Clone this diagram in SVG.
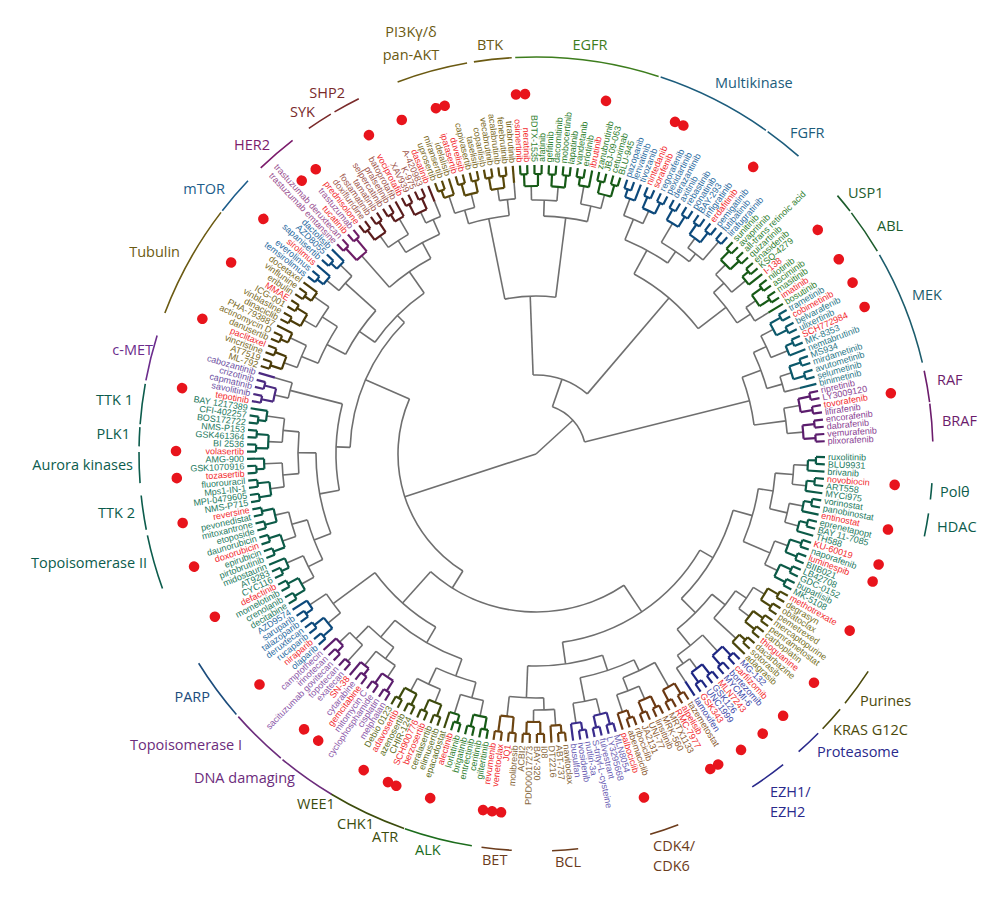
<svg xmlns="http://www.w3.org/2000/svg" width="1000" height="916" viewBox="0 0 1000 916">
<style>
.gr{stroke:#6f6f6f;stroke-width:1.6;fill:none}
.k{fill:none;stroke-width:2.2}
.cA{stroke:#0b5a47}.cB{stroke:#4b460b}.cC{stroke:#1d2683}.cD{stroke:#6a3812}.cE{stroke:#3a2c8c}.cF{stroke:#6d4512}.cG{stroke:#165a16}.cV{stroke:#3d4a0c}.cH{stroke:#5b1d6d}.cI{stroke:#0c497b}.cK{stroke:#4b2a80}.cL{stroke:#4a3b08}.cN{stroke:#6d1d66}.cO{stroke:#5a1c1c}.cP{stroke:#58470a}.cT{stroke:#0b586a}.cU{stroke:#5b1c6d}
#leaves line{stroke-width:2.2}
#leaves text{font-family:'Liberation Sans',Arial,sans-serif;font-size:9px;dominant-baseline:central}
#leaves text.f{text-anchor:end}
.lA line{stroke:#0b5a47}.lA text{fill:#1d7a60}
.lB line{stroke:#4b460b}.lB text{fill:#777024}
.lC line{stroke:#1d2683}.lC text{fill:#3c47a8}
.lD line{stroke:#6a3812}.lD text{fill:#8b5a2f}
.lE line{stroke:#3a2c8c}.lE text{fill:#6a5db3}
.lF line{stroke:#6d4512}.lF text{fill:#86663a}
.lG line{stroke:#165a16}.lG text{fill:#2e7e2e}
.lV line{stroke:#3d4a0c}.lV text{fill:#5d6d21}
.lH line{stroke:#5b1d6d}.lH text{fill:#8b56a8}
.lI line{stroke:#0c497b}.lI text{fill:#2b6c9f}
.lK line{stroke:#4b2a80}.lK text{fill:#6d4fa2}
.lL line{stroke:#4a3b08}.lL text{fill:#7a6a24}
.lN line{stroke:#6d1d66}.lN text{fill:#9a4f90}
.lO line{stroke:#5a1c1c}.lO text{fill:#a0564c}
.lP line{stroke:#58470a}.lP text{fill:#7c6a1e}
.lT line{stroke:#0b586a}.lT text{fill:#2a7888}
.lU line{stroke:#5b1c6d}.lU text{fill:#8a3f93}
#leaves g text.r{fill:#f22b2f}
.cat circle{fill:none;stroke:currentColor;stroke-width:1.6}
.cat text{fill:currentColor;font-family:'Open Sans','Noto Sans',sans-serif;font-size:14.5px}
</style>
<rect width="1000" height="916" fill="#ffffff"/>
<g id="connectors" transform="translate(536 454)">
<g class="gr">
<circle r="258" pathLength="360" stroke-dasharray="4.32 720" transform="rotate(2.4)"/>
<circle r="258" pathLength="360" stroke-dasharray="4.32 720" transform="rotate(11.03)"/>
<circle r="240" pathLength="360" stroke-dasharray="8.63 720" transform="rotate(4.56)"/>
<circle r="254" pathLength="360" stroke-dasharray="5.75 720" transform="rotate(20.03)"/>
<circle r="225" pathLength="360" stroke-dasharray="14.03 720" transform="rotate(8.88)"/>
<circle r="255" pathLength="360" stroke-dasharray="5.76 720" transform="rotate(31.54)"/>
<circle r="242" pathLength="360" stroke-dasharray="8.27 720" transform="rotate(34.42)"/>
<circle r="256" pathLength="360" stroke-dasharray="3.59 720" transform="rotate(53.13)"/>
<circle r="246" pathLength="360" stroke-dasharray="7.56 720" transform="rotate(47.37)"/>
<circle r="225" pathLength="360" stroke-dasharray="12.59 720" transform="rotate(38.56)"/>
<circle r="205" pathLength="360" stroke-dasharray="28.96 720" transform="rotate(15.9)"/>
<circle r="254" pathLength="360" stroke-dasharray="5.39 720" transform="rotate(66.08)"/>
<circle r="240" pathLength="360" stroke-dasharray="8.46 720" transform="rotate(60.32)"/>
<circle r="252" pathLength="360" stroke-dasharray="5.4 720" transform="rotate(76.15)"/>
<circle r="228" pathLength="360" stroke-dasharray="14.3 720" transform="rotate(64.55)"/>
<circle r="256" pathLength="360" stroke-dasharray="4.68 720" transform="rotate(85.86)"/>
<circle r="244" pathLength="360" stroke-dasharray="8.1 720" transform="rotate(88.2)"/>
<circle r="212" pathLength="360" stroke-dasharray="20.55 720" transform="rotate(71.7)"/>
<circle r="190" pathLength="360" stroke-dasharray="51.6 720" transform="rotate(30.38)"/>
<circle r="252" pathLength="360" stroke-dasharray="5.4 720" transform="rotate(102.05)"/>
<circle r="254" pathLength="360" stroke-dasharray="5.76 720" transform="rotate(112.12)"/>
<circle r="236" pathLength="360" stroke-dasharray="10.25 720" transform="rotate(104.75)"/>
<circle r="254" pathLength="360" stroke-dasharray="5.39 720" transform="rotate(123.64)"/>
<circle r="258" pathLength="360" stroke-dasharray="3.96 720" transform="rotate(132.27)"/>
<circle r="240" pathLength="360" stroke-dasharray="7.91 720" transform="rotate(126.34)"/>
<circle r="218" pathLength="360" stroke-dasharray="20.42 720" transform="rotate(109.88)"/>
<circle r="252" pathLength="360" stroke-dasharray="5.4 720" transform="rotate(140.9)"/>
<circle r="200" pathLength="360" stroke-dasharray="23.51 720" transform="rotate(120.09)"/>
<circle r="158" pathLength="360" stroke-dasharray="75.67 720" transform="rotate(56.18)"/>
<circle r="254" pathLength="360" stroke-dasharray="5.39 720" transform="rotate(150.98)"/>
<circle r="254" pathLength="360" stroke-dasharray="5.76 720" transform="rotate(161.05)"/>
<circle r="238" pathLength="360" stroke-dasharray="10.25 720" transform="rotate(153.68)"/>
<circle r="254" pathLength="360" stroke-dasharray="5.4 720" transform="rotate(172.56)"/>
<circle r="254" pathLength="360" stroke-dasharray="5.39 720" transform="rotate(182.64)"/>
<circle r="238" pathLength="360" stroke-dasharray="10.08 720" transform="rotate(175.26)"/>
<circle r="220" pathLength="360" stroke-dasharray="21.49 720" transform="rotate(158.81)"/>
<circle r="254" pathLength="360" stroke-dasharray="3.59 720" transform="rotate(192.71)"/>
<circle r="200" pathLength="360" stroke-dasharray="24.95 720" transform="rotate(169.56)"/>
<circle r="254" pathLength="360" stroke-dasharray="5.4 720" transform="rotate(199.9)"/>
<circle r="254" pathLength="360" stroke-dasharray="5.39 720" transform="rotate(209.98)"/>
<circle r="236" pathLength="360" stroke-dasharray="10.08 720" transform="rotate(202.6)"/>
<circle r="256" pathLength="360" stroke-dasharray="4.32 720" transform="rotate(219.69)"/>
<circle r="215" pathLength="360" stroke-dasharray="14.21 720" transform="rotate(207.64)"/>
<circle r="254" pathLength="360" stroke-dasharray="5.4 720" transform="rotate(234.44)"/>
<circle r="256" pathLength="360" stroke-dasharray="3.6 720" transform="rotate(244.51)"/>
<circle r="240" pathLength="360" stroke-dasharray="9.17 720" transform="rotate(237.14)"/>
<circle r="222" pathLength="360" stroke-dasharray="13.05 720" transform="rotate(228.68)"/>
<circle r="196" pathLength="360" stroke-dasharray="20.46 720" transform="rotate(214.75)"/>
<circle r="186" pathLength="360" stroke-dasharray="42.94 720" transform="rotate(182.04)"/>
<circle r="138" pathLength="360" stroke-dasharray="81.51 720" transform="rotate(122)"/>
<circle r="254" pathLength="360" stroke-dasharray="4.67 720" transform="rotate(251.35)"/>
<circle r="256" pathLength="360" stroke-dasharray="3.6 720" transform="rotate(261.78)"/>
<circle r="240" pathLength="360" stroke-dasharray="9.89 720" transform="rotate(253.69)"/>
<circle r="254" pathLength="360" stroke-dasharray="5.75 720" transform="rotate(268.98)"/>
<circle r="254" pathLength="360" stroke-dasharray="4.67 720" transform="rotate(280.13)"/>
<circle r="238" pathLength="360" stroke-dasharray="10.61 720" transform="rotate(271.86)"/>
<circle r="158" pathLength="360" stroke-dasharray="18.53 720" transform="rotate(258.64)"/>
<circle r="254" pathLength="360" stroke-dasharray="4.68 720" transform="rotate(290.2)"/>
<circle r="256" pathLength="360" stroke-dasharray="4.32 720" transform="rotate(306.39)"/>
<circle r="246" pathLength="360" stroke-dasharray="7.92 720" transform="rotate(300.63)"/>
<circle r="232" pathLength="360" stroke-dasharray="12.05 720" transform="rotate(292.54)"/>
<circle r="254" pathLength="360" stroke-dasharray="5.4 720" transform="rotate(315.02)"/>
<circle r="256" pathLength="360" stroke-dasharray="3.59 720" transform="rotate(325.1)"/>
<circle r="240" pathLength="360" stroke-dasharray="9.18 720" transform="rotate(317.72)"/>
<circle r="205" pathLength="360" stroke-dasharray="23.74 720" transform="rotate(298.57)"/>
<circle r="79" pathLength="360" stroke-dasharray="42.54 720" transform="rotate(267.9)"/>
<circle r="254" pathLength="360" stroke-dasharray="5.4 720" transform="rotate(332.29)"/>
<circle r="256" pathLength="360" stroke-dasharray="3.6 720" transform="rotate(342.36)"/>
<circle r="240" pathLength="360" stroke-dasharray="9.17 720" transform="rotate(334.99)"/>
<circle r="252" pathLength="360" stroke-dasharray="5.76 720" transform="rotate(349.56)"/>
<circle r="220" pathLength="360" stroke-dasharray="12.86 720" transform="rotate(339.58)"/>
<circle r="50" pathLength="360" stroke-dasharray="56.84 720" transform="rotate(289.17)"/>
<line x1="258" x2="272" transform="rotate(2.4)"/><line x1="258" x2="272" transform="rotate(6.72)"/><line x1="240" x2="258" transform="rotate(4.56)"/><line x1="258" x2="272" transform="rotate(11.03)"/><line x1="258" x2="272" transform="rotate(15.35)"/><line x1="240" x2="258" transform="rotate(13.19)"/><line x1="225" x2="240" transform="rotate(8.88)"/><line x1="254" x2="268" transform="rotate(20.03)"/><line x1="254" x2="268" transform="rotate(25.78)"/><line x1="225" x2="254" transform="rotate(22.91)"/><line x1="205" x2="225" transform="rotate(15.9)"/>
<line x1="255" x2="268" transform="rotate(31.54)"/><line x1="255" x2="268" transform="rotate(37.3)"/><line x1="242" x2="255" transform="rotate(34.42)"/><line x1="242" x2="272" transform="rotate(42.69)"/><line x1="225" x2="242" transform="rotate(38.56)"/>
<line x1="246" x2="268" transform="rotate(47.37)"/><line x1="256" x2="268" transform="rotate(53.13)"/><line x1="246" x2="256" transform="rotate(54.93)"/><line x1="256" x2="272" transform="rotate(56.72)"/><line x1="225" x2="246" transform="rotate(51.15)"/><line x1="205" x2="225" transform="rotate(44.86)"/><line x1="190" x2="205" transform="rotate(30.38)"/>
<line x1="240" x2="268" transform="rotate(60.32)"/><line x1="254" x2="268" transform="rotate(66.08)"/><line x1="254" x2="272" transform="rotate(71.47)"/><line x1="240" x2="254" transform="rotate(68.78)"/><line x1="228" x2="240" transform="rotate(64.55)"/>
<line x1="252" x2="268" transform="rotate(76.15)"/><line x1="252" x2="272" transform="rotate(81.55)"/><line x1="228" x2="252" transform="rotate(78.85)"/><line x1="212" x2="228" transform="rotate(71.7)"/>
<line x1="256" x2="272" transform="rotate(85.86)"/><line x1="256" x2="268" transform="rotate(90.54)"/><line x1="244" x2="256" transform="rotate(88.2)"/><line x1="244" x2="264" transform="rotate(96.3)"/><line x1="212" x2="244" transform="rotate(92.25)"/><line x1="190" x2="212" transform="rotate(81.98)"/><line x1="158" x2="190" transform="rotate(56.18)"/>
<line x1="252" x2="268" transform="rotate(102.05)"/><line x1="252" x2="272" transform="rotate(107.45)"/><line x1="236" x2="252" transform="rotate(104.75)"/><line x1="254" x2="268" transform="rotate(112.12)"/><line x1="254" x2="268" transform="rotate(117.88)"/><line x1="236" x2="254" transform="rotate(115)"/><line x1="218" x2="236" transform="rotate(109.88)"/>
<line x1="254" x2="268" transform="rotate(123.64)"/><line x1="254" x2="272" transform="rotate(129.03)"/><line x1="240" x2="254" transform="rotate(126.34)"/><line x1="258" x2="280" transform="rotate(132.27)"/><line x1="258" x2="272" transform="rotate(136.23)"/><line x1="240" x2="258" transform="rotate(134.25)"/><line x1="218" x2="240" transform="rotate(130.3)"/><line x1="200" x2="218" transform="rotate(120.09)"/>
<line x1="252" x2="268" transform="rotate(140.9)"/><line x1="252" x2="272" transform="rotate(146.3)"/><line x1="200" x2="252" transform="rotate(143.6)"/><line x1="158" x2="200" transform="rotate(131.85)"/><line x1="138" x2="158" transform="rotate(122)"/>
<line x1="254" x2="268" transform="rotate(150.98)"/><line x1="254" x2="272" transform="rotate(156.37)"/><line x1="238" x2="254" transform="rotate(153.68)"/><line x1="254" x2="268" transform="rotate(161.05)"/><line x1="254" x2="268" transform="rotate(166.81)"/><line x1="238" x2="254" transform="rotate(163.93)"/><line x1="220" x2="238" transform="rotate(158.81)"/><line x1="254" x2="268" transform="rotate(172.56)"/><line x1="254" x2="272" transform="rotate(177.96)"/><line x1="238" x2="254" transform="rotate(175.26)"/><line x1="254" x2="268" transform="rotate(182.64)"/><line x1="254" x2="272" transform="rotate(188.03)"/><line x1="238" x2="254" transform="rotate(185.34)"/><line x1="220" x2="238" transform="rotate(180.3)"/><line x1="200" x2="220" transform="rotate(169.56)"/>
<line x1="254" x2="268" transform="rotate(192.71)"/><line x1="254" x2="272" transform="rotate(196.3)"/><line x1="200" x2="254" transform="rotate(194.51)"/><line x1="186" x2="200" transform="rotate(182.04)"/>
<line x1="254" x2="268" transform="rotate(199.9)"/><line x1="254" x2="272" transform="rotate(205.3)"/><line x1="236" x2="254" transform="rotate(202.6)"/><line x1="254" x2="268" transform="rotate(209.98)"/><line x1="254" x2="272" transform="rotate(215.37)"/><line x1="236" x2="254" transform="rotate(212.68)"/><line x1="215" x2="236" transform="rotate(207.64)"/>
<line x1="256" x2="272" transform="rotate(219.69)"/><line x1="256" x2="272" transform="rotate(224.01)"/><line x1="215" x2="256" transform="rotate(221.85)"/><line x1="196" x2="215" transform="rotate(214.75)"/>
<line x1="222" x2="264" transform="rotate(228.68)"/>
<line x1="254" x2="268" transform="rotate(234.44)"/><line x1="254" x2="272" transform="rotate(239.84)"/><line x1="240" x2="254" transform="rotate(237.14)"/><line x1="256" x2="268" transform="rotate(244.51)"/><line x1="256" x2="272" transform="rotate(248.11)"/><line x1="240" x2="256" transform="rotate(246.31)"/><line x1="222" x2="240" transform="rotate(241.73)"/><line x1="196" x2="222" transform="rotate(235.21)"/><line x1="186" x2="196" transform="rotate(224.98)"/><line x1="138" x2="186" transform="rotate(203.51)"/><line x1="0" x2="138" transform="rotate(162)"/>
<line x1="254" x2="272" transform="rotate(251.35)"/><line x1="254" x2="268" transform="rotate(256.02)"/><line x1="240" x2="254" transform="rotate(253.69)"/><line x1="256" x2="268" transform="rotate(261.78)"/><line x1="256" x2="272" transform="rotate(265.38)"/><line x1="240" x2="256" transform="rotate(263.58)"/><line x1="158" x2="240" transform="rotate(258.64)"/>
<line x1="254" x2="268" transform="rotate(268.98)"/><line x1="254" x2="268" transform="rotate(274.73)"/><line x1="238" x2="254" transform="rotate(271.86)"/><line x1="254" x2="272" transform="rotate(280.13)"/><line x1="254" x2="268" transform="rotate(284.8)"/><line x1="238" x2="254" transform="rotate(282.47)"/><line x1="158" x2="238" transform="rotate(277.17)"/><line x1="79" x2="158" transform="rotate(267.9)"/>
<line x1="254" x2="272" transform="rotate(290.2)"/><line x1="254" x2="268" transform="rotate(294.88)"/><line x1="232" x2="254" transform="rotate(292.54)"/><line x1="246" x2="268" transform="rotate(300.63)"/><line x1="256" x2="268" transform="rotate(306.39)"/><line x1="256" x2="280" transform="rotate(310.71)"/><line x1="246" x2="256" transform="rotate(308.55)"/><line x1="232" x2="246" transform="rotate(304.59)"/><line x1="205" x2="232" transform="rotate(298.57)"/>
<line x1="254" x2="268" transform="rotate(315.02)"/><line x1="254" x2="272" transform="rotate(320.42)"/><line x1="240" x2="254" transform="rotate(317.72)"/><line x1="256" x2="268" transform="rotate(325.1)"/><line x1="256" x2="272" transform="rotate(328.69)"/><line x1="240" x2="256" transform="rotate(326.9)"/><line x1="205" x2="240" transform="rotate(322.31)"/><line x1="79" x2="205" transform="rotate(310.44)"/><line x1="50" x2="79" transform="rotate(289.17)"/>
<line x1="254" x2="268" transform="rotate(332.29)"/><line x1="254" x2="272" transform="rotate(337.69)"/><line x1="240" x2="254" transform="rotate(334.99)"/><line x1="256" x2="268" transform="rotate(342.36)"/><line x1="256" x2="272" transform="rotate(345.96)"/><line x1="240" x2="256" transform="rotate(344.16)"/><line x1="220" x2="240" transform="rotate(339.58)"/>
<line x1="252" x2="268" transform="rotate(349.56)"/><line x1="252" x2="268" transform="rotate(355.32)"/><line x1="220" x2="252" transform="rotate(352.44)"/><line x1="50" x2="220" transform="rotate(346.01)"/><line x1="0" x2="50" transform="rotate(317.59)"/>
</g>
<g class="k cA">
<circle r="280" pathLength="360" stroke-dasharray="1.44 720" transform="rotate(0.6)"/><circle r="272" pathLength="360" stroke-dasharray="2.16 720" transform="rotate(1.32)"/><circle r="280" pathLength="360" stroke-dasharray="1.44 720" transform="rotate(4.92)"/><circle r="272" pathLength="360" stroke-dasharray="2.16 720" transform="rotate(5.64)"/><circle r="280" pathLength="360" stroke-dasharray="1.44 720" transform="rotate(9.23)"/><circle r="272" pathLength="360" stroke-dasharray="2.16 720" transform="rotate(9.95)"/><circle r="280" pathLength="360" stroke-dasharray="1.44 720" transform="rotate(13.55)"/><circle r="272" pathLength="360" stroke-dasharray="2.16 720" transform="rotate(14.27)"/><circle r="280" pathLength="360" stroke-dasharray="1.44 720" transform="rotate(17.87)"/><circle r="280" pathLength="360" stroke-dasharray="1.44 720" transform="rotate(20.75)"/><circle r="268" pathLength="360" stroke-dasharray="2.88 720" transform="rotate(18.59)"/><circle r="280" pathLength="360" stroke-dasharray="1.44 720" transform="rotate(23.62)"/><circle r="280" pathLength="360" stroke-dasharray="1.44 720" transform="rotate(26.5)"/><circle r="268" pathLength="360" stroke-dasharray="2.88 720" transform="rotate(24.34)"/>
<line x1="272" x2="280" transform="rotate(1.32)"/><line x1="272" x2="280" transform="rotate(5.64)"/><line x1="272" x2="280" transform="rotate(9.95)"/><line x1="272" x2="280" transform="rotate(14.27)"/><line x1="268" x2="280" transform="rotate(18.59)"/><line x1="268" x2="280" transform="rotate(21.47)"/><line x1="268" x2="280" transform="rotate(24.34)"/><line x1="268" x2="280" transform="rotate(27.22)"/>
<circle r="280" pathLength="360" stroke-dasharray="1.44 720" transform="rotate(148.82)"/><circle r="280" pathLength="360" stroke-dasharray="1.43 720" transform="rotate(151.7)"/><circle r="268" pathLength="360" stroke-dasharray="2.88 720" transform="rotate(149.54)"/><circle r="280" pathLength="360" stroke-dasharray="1.44 720" transform="rotate(154.57)"/><circle r="272" pathLength="360" stroke-dasharray="2.16 720" transform="rotate(155.29)"/><circle r="280" pathLength="360" stroke-dasharray="1.44 720" transform="rotate(158.89)"/><circle r="280" pathLength="360" stroke-dasharray="1.44 720" transform="rotate(161.77)"/><circle r="268" pathLength="360" stroke-dasharray="2.88 720" transform="rotate(159.61)"/><circle r="280" pathLength="360" stroke-dasharray="1.44 720" transform="rotate(164.65)"/><circle r="280" pathLength="360" stroke-dasharray="1.44 720" transform="rotate(167.52)"/><circle r="268" pathLength="360" stroke-dasharray="2.87 720" transform="rotate(165.37)"/><circle r="280" pathLength="360" stroke-dasharray="1.44 720" transform="rotate(170.4)"/><circle r="280" pathLength="360" stroke-dasharray="1.44 720" transform="rotate(173.28)"/><circle r="268" pathLength="360" stroke-dasharray="2.88 720" transform="rotate(171.12)"/><circle r="280" pathLength="360" stroke-dasharray="1.44 720" transform="rotate(176.16)"/><circle r="272" pathLength="360" stroke-dasharray="2.16 720" transform="rotate(176.88)"/><circle r="280" pathLength="360" stroke-dasharray="1.43 720" transform="rotate(180.48)"/><circle r="280" pathLength="360" stroke-dasharray="1.44 720" transform="rotate(183.35)"/><circle r="268" pathLength="360" stroke-dasharray="2.87 720" transform="rotate(181.2)"/><circle r="280" pathLength="360" stroke-dasharray="1.44 720" transform="rotate(186.23)"/><circle r="272" pathLength="360" stroke-dasharray="2.16 720" transform="rotate(186.95)"/>
<line x1="268" x2="280" transform="rotate(149.54)"/><line x1="268" x2="280" transform="rotate(152.42)"/><line x1="272" x2="280" transform="rotate(155.29)"/><line x1="268" x2="280" transform="rotate(159.61)"/><line x1="268" x2="280" transform="rotate(162.49)"/><line x1="268" x2="280" transform="rotate(165.37)"/><line x1="268" x2="280" transform="rotate(168.24)"/><line x1="268" x2="280" transform="rotate(171.12)"/><line x1="268" x2="280" transform="rotate(174)"/><line x1="272" x2="280" transform="rotate(176.88)"/><line x1="268" x2="280" transform="rotate(181.2)"/><line x1="268" x2="280" transform="rotate(184.07)"/><line x1="272" x2="280" transform="rotate(186.95)"/>
</g>
<g class="k cB">
<circle r="280" pathLength="360" stroke-dasharray="1.44 720" transform="rotate(29.38)"/><circle r="280" pathLength="360" stroke-dasharray="1.44 720" transform="rotate(32.26)"/><circle r="268" pathLength="360" stroke-dasharray="2.88 720" transform="rotate(30.1)"/><circle r="280" pathLength="360" stroke-dasharray="1.44 720" transform="rotate(35.14)"/><circle r="280" pathLength="360" stroke-dasharray="1.44 720" transform="rotate(38.01)"/><circle r="268" pathLength="360" stroke-dasharray="2.87 720" transform="rotate(35.86)"/><circle r="280" pathLength="360" stroke-dasharray="1.44 720" transform="rotate(40.89)"/><circle r="272" pathLength="360" stroke-dasharray="2.16 720" transform="rotate(41.61)"/>
<line x1="268" x2="280" transform="rotate(30.1)"/><line x1="268" x2="280" transform="rotate(32.98)"/><line x1="268" x2="280" transform="rotate(35.86)"/><line x1="268" x2="280" transform="rotate(38.73)"/><line x1="272" x2="280" transform="rotate(41.61)"/>
</g>
<g class="k cC">
<circle r="280" pathLength="360" stroke-dasharray="1.44 720" transform="rotate(45.21)"/><circle r="280" pathLength="360" stroke-dasharray="1.44 720" transform="rotate(48.09)"/><circle r="268" pathLength="360" stroke-dasharray="2.88 720" transform="rotate(45.93)"/><circle r="280" pathLength="360" stroke-dasharray="1.43 720" transform="rotate(50.97)"/><circle r="280" pathLength="360" stroke-dasharray="1.44 720" transform="rotate(53.84)"/><circle r="268" pathLength="360" stroke-dasharray="2.87 720" transform="rotate(51.69)"/>
<line x1="268" x2="280" transform="rotate(45.93)"/><line x1="268" x2="280" transform="rotate(48.81)"/><line x1="268" x2="280" transform="rotate(51.69)"/><line x1="268" x2="280" transform="rotate(54.56)"/>
</g>
<g class="k cD">
<circle r="280" pathLength="360" stroke-dasharray="1.44 720" transform="rotate(58.16)"/><circle r="280" pathLength="360" stroke-dasharray="1.44 720" transform="rotate(61.04)"/><circle r="268" pathLength="360" stroke-dasharray="2.88 720" transform="rotate(58.88)"/><circle r="280" pathLength="360" stroke-dasharray="1.44 720" transform="rotate(63.92)"/><circle r="280" pathLength="360" stroke-dasharray="1.44 720" transform="rotate(66.79)"/><circle r="268" pathLength="360" stroke-dasharray="2.87 720" transform="rotate(64.64)"/><circle r="280" pathLength="360" stroke-dasharray="1.44 720" transform="rotate(69.67)"/><circle r="272" pathLength="360" stroke-dasharray="2.16 720" transform="rotate(70.39)"/>
<line x1="268" x2="280" transform="rotate(58.88)"/><line x1="268" x2="280" transform="rotate(61.76)"/><line x1="268" x2="280" transform="rotate(64.64)"/><line x1="268" x2="280" transform="rotate(67.51)"/><line x1="272" x2="280" transform="rotate(70.39)"/>
</g>
<g class="k cE">
<circle r="280" pathLength="360" stroke-dasharray="1.44 720" transform="rotate(73.99)"/><circle r="280" pathLength="360" stroke-dasharray="1.44 720" transform="rotate(76.87)"/><circle r="268" pathLength="360" stroke-dasharray="2.88 720" transform="rotate(74.71)"/><circle r="280" pathLength="360" stroke-dasharray="1.43 720" transform="rotate(79.75)"/><circle r="272" pathLength="360" stroke-dasharray="2.15 720" transform="rotate(80.47)"/>
<line x1="268" x2="280" transform="rotate(74.71)"/><line x1="268" x2="280" transform="rotate(77.59)"/><line x1="272" x2="280" transform="rotate(80.47)"/>
</g>
<g class="k cF">
<circle r="280" pathLength="360" stroke-dasharray="1.44 720" transform="rotate(84.06)"/><circle r="272" pathLength="360" stroke-dasharray="2.16 720" transform="rotate(84.78)"/><circle r="280" pathLength="360" stroke-dasharray="1.44 720" transform="rotate(88.38)"/><circle r="280" pathLength="360" stroke-dasharray="1.44 720" transform="rotate(91.26)"/><circle r="268" pathLength="360" stroke-dasharray="2.88 720" transform="rotate(89.1)"/><circle r="280" pathLength="360" stroke-dasharray="1.43 720" transform="rotate(94.14)"/><circle r="280" pathLength="360" stroke-dasharray="1.44 720" transform="rotate(97.01)"/><circle r="264" pathLength="360" stroke-dasharray="2.87 720" transform="rotate(94.86)"/>
<line x1="272" x2="280" transform="rotate(84.78)"/><line x1="268" x2="280" transform="rotate(89.1)"/><line x1="268" x2="280" transform="rotate(91.98)"/><line x1="264" x2="280" transform="rotate(94.86)"/><line x1="264" x2="280" transform="rotate(97.73)"/>
</g>
<g class="k cG">
<circle r="280" pathLength="360" stroke-dasharray="1.44 720" transform="rotate(99.89)"/><circle r="280" pathLength="360" stroke-dasharray="1.44 720" transform="rotate(102.77)"/><circle r="268" pathLength="360" stroke-dasharray="2.88 720" transform="rotate(100.61)"/><circle r="280" pathLength="360" stroke-dasharray="1.44 720" transform="rotate(105.65)"/><circle r="272" pathLength="360" stroke-dasharray="2.16 720" transform="rotate(106.37)"/>
<line x1="268" x2="280" transform="rotate(100.61)"/><line x1="268" x2="280" transform="rotate(103.49)"/><line x1="272" x2="280" transform="rotate(106.37)"/>
<circle r="280" pathLength="360" stroke-dasharray="1.43 720" transform="rotate(266.82)"/><circle r="280" pathLength="360" stroke-dasharray="1.44 720" transform="rotate(269.69)"/><circle r="268" pathLength="360" stroke-dasharray="2.87 720" transform="rotate(267.54)"/><circle r="280" pathLength="360" stroke-dasharray="1.44 720" transform="rotate(272.57)"/><circle r="280" pathLength="360" stroke-dasharray="1.44 720" transform="rotate(275.45)"/><circle r="268" pathLength="360" stroke-dasharray="2.88 720" transform="rotate(273.29)"/><circle r="280" pathLength="360" stroke-dasharray="1.44 720" transform="rotate(278.33)"/><circle r="272" pathLength="360" stroke-dasharray="2.16 720" transform="rotate(279.05)"/><circle r="280" pathLength="360" stroke-dasharray="1.44 720" transform="rotate(282.64)"/><circle r="280" pathLength="360" stroke-dasharray="1.44 720" transform="rotate(285.52)"/><circle r="268" pathLength="360" stroke-dasharray="2.88 720" transform="rotate(283.36)"/>
<line x1="268" x2="280" transform="rotate(267.54)"/><line x1="268" x2="280" transform="rotate(270.41)"/><line x1="268" x2="280" transform="rotate(273.29)"/><line x1="268" x2="280" transform="rotate(276.17)"/><line x1="272" x2="280" transform="rotate(279.05)"/><line x1="268" x2="280" transform="rotate(283.36)"/><line x1="268" x2="280" transform="rotate(286.24)"/>
<circle r="280" pathLength="360" stroke-dasharray="1.44 720" transform="rotate(312.86)"/><circle r="280" pathLength="360" stroke-dasharray="1.44 720" transform="rotate(315.74)"/><circle r="268" pathLength="360" stroke-dasharray="2.88 720" transform="rotate(313.58)"/><circle r="280" pathLength="360" stroke-dasharray="1.44 720" transform="rotate(318.62)"/><circle r="272" pathLength="360" stroke-dasharray="2.16 720" transform="rotate(319.34)"/><circle r="280" pathLength="360" stroke-dasharray="1.44 720" transform="rotate(322.94)"/><circle r="280" pathLength="360" stroke-dasharray="1.44 720" transform="rotate(325.81)"/><circle r="268" pathLength="360" stroke-dasharray="2.87 720" transform="rotate(323.66)"/>
<line x1="268" x2="280" transform="rotate(313.58)"/><line x1="268" x2="280" transform="rotate(316.46)"/><line x1="272" x2="280" transform="rotate(319.34)"/><line x1="268" x2="280" transform="rotate(323.66)"/><line x1="268" x2="280" transform="rotate(326.53)"/>
</g>
<g class="k cV">
<circle r="280" pathLength="360" stroke-dasharray="1.44 720" transform="rotate(109.96)"/><circle r="280" pathLength="360" stroke-dasharray="1.44 720" transform="rotate(112.84)"/><circle r="268" pathLength="360" stroke-dasharray="2.88 720" transform="rotate(110.68)"/><circle r="280" pathLength="360" stroke-dasharray="1.44 720" transform="rotate(115.72)"/><circle r="280" pathLength="360" stroke-dasharray="1.44 720" transform="rotate(118.6)"/><circle r="268" pathLength="360" stroke-dasharray="2.88 720" transform="rotate(116.44)"/>
<line x1="268" x2="280" transform="rotate(110.68)"/><line x1="268" x2="280" transform="rotate(113.56)"/><line x1="268" x2="280" transform="rotate(116.44)"/><line x1="268" x2="280" transform="rotate(119.32)"/>
</g>
<g class="k cH">
<circle r="280" pathLength="360" stroke-dasharray="1.44 720" transform="rotate(121.48)"/><circle r="280" pathLength="360" stroke-dasharray="1.44 720" transform="rotate(124.35)"/><circle r="268" pathLength="360" stroke-dasharray="2.87 720" transform="rotate(122.2)"/><circle r="280" pathLength="360" stroke-dasharray="1.44 720" transform="rotate(127.23)"/><circle r="272" pathLength="360" stroke-dasharray="2.16 720" transform="rotate(127.95)"/><circle r="280" pathLength="360" stroke-dasharray="1.44 720" transform="rotate(131.55)"/><circle r="280" pathLength="360" stroke-dasharray="1.44 720" transform="rotate(134.43)"/><circle r="272" pathLength="360" stroke-dasharray="2.16 720" transform="rotate(135.15)"/>
<line x1="268" x2="280" transform="rotate(122.2)"/><line x1="268" x2="280" transform="rotate(125.07)"/><line x1="272" x2="280" transform="rotate(127.95)"/><line x1="272" x2="280" transform="rotate(135.15)"/>
</g>
<g class="k cI">
<circle r="280" pathLength="360" stroke-dasharray="1.44 720" transform="rotate(138.74)"/><circle r="280" pathLength="360" stroke-dasharray="1.44 720" transform="rotate(141.62)"/><circle r="268" pathLength="360" stroke-dasharray="2.88 720" transform="rotate(139.46)"/><circle r="280" pathLength="360" stroke-dasharray="1.44 720" transform="rotate(144.5)"/><circle r="272" pathLength="360" stroke-dasharray="2.16 720" transform="rotate(145.22)"/>
<line x1="268" x2="280" transform="rotate(139.46)"/><line x1="268" x2="280" transform="rotate(142.34)"/><line x1="272" x2="280" transform="rotate(145.22)"/>
<circle r="280" pathLength="360" stroke-dasharray="1.44 720" transform="rotate(217.89)"/><circle r="272" pathLength="360" stroke-dasharray="2.16 720" transform="rotate(218.61)"/><circle r="280" pathLength="360" stroke-dasharray="1.44 720" transform="rotate(222.21)"/><circle r="272" pathLength="360" stroke-dasharray="2.15 720" transform="rotate(222.93)"/>
<line x1="272" x2="280" transform="rotate(218.61)"/><line x1="272" x2="280" transform="rotate(222.93)"/>
<circle r="280" pathLength="360" stroke-dasharray="1.44 720" transform="rotate(288.4)"/><circle r="272" pathLength="360" stroke-dasharray="2.16 720" transform="rotate(289.12)"/><circle r="280" pathLength="360" stroke-dasharray="1.44 720" transform="rotate(292.72)"/><circle r="280" pathLength="360" stroke-dasharray="1.43 720" transform="rotate(295.6)"/><circle r="268" pathLength="360" stroke-dasharray="2.88 720" transform="rotate(293.44)"/><circle r="280" pathLength="360" stroke-dasharray="1.44 720" transform="rotate(298.47)"/><circle r="280" pathLength="360" stroke-dasharray="1.44 720" transform="rotate(301.35)"/><circle r="268" pathLength="360" stroke-dasharray="2.88 720" transform="rotate(299.19)"/><circle r="280" pathLength="360" stroke-dasharray="1.44 720" transform="rotate(304.23)"/><circle r="280" pathLength="360" stroke-dasharray="1.44 720" transform="rotate(307.11)"/><circle r="268" pathLength="360" stroke-dasharray="2.88 720" transform="rotate(304.95)"/><circle r="280" pathLength="360" stroke-dasharray="1.43 720" transform="rotate(309.99)"/>
<line x1="272" x2="280" transform="rotate(289.12)"/><line x1="268" x2="280" transform="rotate(293.44)"/><line x1="268" x2="280" transform="rotate(296.32)"/><line x1="268" x2="280" transform="rotate(299.19)"/><line x1="268" x2="280" transform="rotate(302.07)"/><line x1="268" x2="280" transform="rotate(304.95)"/><line x1="268" x2="280" transform="rotate(307.83)"/>
</g>
<g class="k cK">
<circle r="280" pathLength="360" stroke-dasharray="1.44 720" transform="rotate(190.55)"/><circle r="280" pathLength="360" stroke-dasharray="1.44 720" transform="rotate(193.43)"/><circle r="268" pathLength="360" stroke-dasharray="2.88 720" transform="rotate(191.27)"/>
<line x1="268" x2="280" transform="rotate(191.27)"/><line x1="268" x2="280" transform="rotate(194.15)"/>
</g>
<g class="k cL">
<circle r="280" pathLength="360" stroke-dasharray="1.44 720" transform="rotate(197.74)"/><circle r="280" pathLength="360" stroke-dasharray="1.44 720" transform="rotate(200.62)"/><circle r="268" pathLength="360" stroke-dasharray="2.88 720" transform="rotate(198.46)"/><circle r="280" pathLength="360" stroke-dasharray="1.44 720" transform="rotate(203.5)"/><circle r="272" pathLength="360" stroke-dasharray="2.16 720" transform="rotate(204.22)"/><circle r="280" pathLength="360" stroke-dasharray="1.44 720" transform="rotate(207.82)"/><circle r="280" pathLength="360" stroke-dasharray="1.44 720" transform="rotate(210.69)"/><circle r="268" pathLength="360" stroke-dasharray="2.87 720" transform="rotate(208.54)"/><circle r="280" pathLength="360" stroke-dasharray="1.44 720" transform="rotate(213.57)"/><circle r="272" pathLength="360" stroke-dasharray="2.16 720" transform="rotate(214.29)"/>
<line x1="268" x2="280" transform="rotate(198.46)"/><line x1="268" x2="280" transform="rotate(201.34)"/><line x1="272" x2="280" transform="rotate(204.22)"/><line x1="268" x2="280" transform="rotate(208.54)"/><line x1="268" x2="280" transform="rotate(211.41)"/><line x1="272" x2="280" transform="rotate(214.29)"/>
</g>
<g class="k cN">
<circle r="280" pathLength="360" stroke-dasharray="1.44 720" transform="rotate(226.52)"/><circle r="280" pathLength="360" stroke-dasharray="1.44 720" transform="rotate(229.4)"/><circle r="264" pathLength="360" stroke-dasharray="2.88 720" transform="rotate(227.24)"/>
<line x1="264" x2="280" transform="rotate(227.24)"/><line x1="264" x2="280" transform="rotate(230.12)"/>
</g>
<g class="k cO">
<circle r="280" pathLength="360" stroke-dasharray="1.44 720" transform="rotate(232.28)"/><circle r="280" pathLength="360" stroke-dasharray="1.44 720" transform="rotate(235.16)"/><circle r="268" pathLength="360" stroke-dasharray="2.88 720" transform="rotate(233)"/><circle r="280" pathLength="360" stroke-dasharray="1.43 720" transform="rotate(238.04)"/><circle r="272" pathLength="360" stroke-dasharray="2.15 720" transform="rotate(238.76)"/><circle r="280" pathLength="360" stroke-dasharray="1.44 720" transform="rotate(242.35)"/><circle r="280" pathLength="360" stroke-dasharray="1.44 720" transform="rotate(245.23)"/><circle r="268" pathLength="360" stroke-dasharray="2.88 720" transform="rotate(243.07)"/>
<line x1="268" x2="280" transform="rotate(233)"/><line x1="268" x2="280" transform="rotate(235.88)"/><line x1="272" x2="280" transform="rotate(238.76)"/><line x1="268" x2="280" transform="rotate(243.07)"/><line x1="268" x2="280" transform="rotate(245.95)"/>
</g>
<g class="k cP">
<circle r="280" pathLength="360" stroke-dasharray="1.44 720" transform="rotate(249.55)"/><circle r="272" pathLength="360" stroke-dasharray="2.16 720" transform="rotate(250.27)"/><circle r="280" pathLength="360" stroke-dasharray="1.44 720" transform="rotate(253.86)"/><circle r="280" pathLength="360" stroke-dasharray="1.44 720" transform="rotate(256.74)"/><circle r="268" pathLength="360" stroke-dasharray="2.88 720" transform="rotate(254.58)"/><circle r="280" pathLength="360" stroke-dasharray="1.44 720" transform="rotate(259.62)"/><circle r="280" pathLength="360" stroke-dasharray="1.44 720" transform="rotate(262.5)"/><circle r="268" pathLength="360" stroke-dasharray="2.88 720" transform="rotate(260.34)"/>
<line x1="272" x2="280" transform="rotate(250.27)"/><line x1="268" x2="280" transform="rotate(254.58)"/><line x1="268" x2="280" transform="rotate(257.46)"/><line x1="268" x2="280" transform="rotate(260.34)"/><line x1="268" x2="280" transform="rotate(263.22)"/>
</g>
<g class="k cT">
<circle r="280" pathLength="360" stroke-dasharray="1.44 720" transform="rotate(330.13)"/><circle r="280" pathLength="360" stroke-dasharray="1.44 720" transform="rotate(333.01)"/><circle r="268" pathLength="360" stroke-dasharray="2.88 720" transform="rotate(330.85)"/><circle r="280" pathLength="360" stroke-dasharray="1.44 720" transform="rotate(335.89)"/><circle r="272" pathLength="360" stroke-dasharray="2.16 720" transform="rotate(336.61)"/><circle r="280" pathLength="360" stroke-dasharray="1.44 720" transform="rotate(340.2)"/><circle r="280" pathLength="360" stroke-dasharray="1.44 720" transform="rotate(343.08)"/><circle r="268" pathLength="360" stroke-dasharray="2.88 720" transform="rotate(340.92)"/>
<line x1="268" x2="280" transform="rotate(330.85)"/><line x1="268" x2="280" transform="rotate(333.73)"/><line x1="272" x2="280" transform="rotate(336.61)"/><line x1="268" x2="280" transform="rotate(340.92)"/><line x1="268" x2="280" transform="rotate(343.8)"/>
</g>
<g class="k cU">
<circle r="280" pathLength="360" stroke-dasharray="1.44 720" transform="rotate(347.4)"/><circle r="280" pathLength="360" stroke-dasharray="1.44 720" transform="rotate(350.28)"/><circle r="268" pathLength="360" stroke-dasharray="2.88 720" transform="rotate(348.12)"/><circle r="280" pathLength="360" stroke-dasharray="1.43 720" transform="rotate(353.16)"/><circle r="280" pathLength="360" stroke-dasharray="1.44 720" transform="rotate(356.03)"/><circle r="268" pathLength="360" stroke-dasharray="2.87 720" transform="rotate(353.88)"/>
<line x1="268" x2="280" transform="rotate(348.12)"/><line x1="268" x2="280" transform="rotate(351)"/><line x1="268" x2="280" transform="rotate(353.88)"/><line x1="268" x2="280" transform="rotate(356.75)"/>
</g>
</g>
<g id="leaves" transform="translate(536 454)">
<g id="lf0" class="lA" transform="rotate(0.6)"><line x1="280" x2="289"/><text x="292">ruxolitinib</text></g>
<g id="lf1" class="lA" transform="rotate(2.04)"><line x1="280" x2="289"/><text x="292">BLU9931</text></g>
<g id="lf2" class="lA" transform="rotate(3.48)"><line x1="272" x2="289"/><text x="292">brivanib</text></g>
<g id="lf3" class="lA" transform="rotate(4.92)"><line x1="280" x2="289"/><text class="r" x="292">novobiocin</text></g>
<g id="lf4" class="lA" transform="rotate(6.36)"><line x1="280" x2="289"/><text x="292">ART558</text></g>
<g id="lf5" class="lA" transform="rotate(7.8)"><line x1="272" x2="289"/><text x="292">MYCi975</text></g>
<g id="lf6" class="lA" transform="rotate(9.23)"><line x1="280" x2="289"/><text x="292">vorinostat</text></g>
<g id="lf7" class="lA" transform="rotate(10.67)"><line x1="280" x2="289"/><text x="292">panobinostat</text></g>
<g id="lf8" class="lA" transform="rotate(12.11)"><line x1="272" x2="289"/><text class="r" x="292">entinostat</text></g>
<g id="lf9" class="lA" transform="rotate(13.55)"><line x1="280" x2="289"/><text x="292">eprenetapopt</text></g>
<g id="lf10" class="lA" transform="rotate(14.99)"><line x1="280" x2="289"/><text x="292">BAY 11-7085</text></g>
<g id="lf11" class="lA" transform="rotate(16.43)"><line x1="272" x2="289"/><text x="292">TH588</text></g>
<g id="lf12" class="lA" transform="rotate(17.87)"><line x1="280" x2="289"/><text class="r" x="292">KU-60019</text></g>
<g id="lf13" class="lA" transform="rotate(19.31)"><line x1="280" x2="289"/><text x="292">naporafenib</text></g>
<g id="lf14" class="lA" transform="rotate(20.75)"><line x1="280" x2="289"/><text class="r" x="292">luminespib</text></g>
<g id="lf15" class="lA" transform="rotate(22.19)"><line x1="280" x2="289"/><text x="292">BIIB021</text></g>
<g id="lf16" class="lA" transform="rotate(23.62)"><line x1="280" x2="289"/><text x="292">LB42708</text></g>
<g id="lf17" class="lA" transform="rotate(25.06)"><line x1="280" x2="289"/><text x="292">GDC-0152</text></g>
<g id="lf18" class="lA" transform="rotate(26.5)"><line x1="280" x2="289"/><text x="292">buparlisib</text></g>
<g id="lf19" class="lA" transform="rotate(27.94)"><line x1="280" x2="289"/><text x="292">MK-5108</text></g>
<g id="lf20" class="lB" transform="rotate(29.38)"><line x1="280" x2="289"/><text class="r" x="292">methotrexate</text></g>
<g id="lf21" class="lB" transform="rotate(30.82)"><line x1="280" x2="289"/><text x="292">degrasyn</text></g>
<g id="lf22" class="lB" transform="rotate(32.26)"><line x1="280" x2="289"/><text x="292">obatoclax</text></g>
<g id="lf23" class="lB" transform="rotate(33.7)"><line x1="280" x2="289"/><text x="292">pemetrexed</text></g>
<g id="lf24" class="lB" transform="rotate(35.14)"><line x1="280" x2="289"/><text x="292">mercaptopurine</text></g>
<g id="lf25" class="lB" transform="rotate(36.58)"><line x1="280" x2="289"/><text x="292">pemrametostat</text></g>
<g id="lf26" class="lB" transform="rotate(38.01)"><line x1="280" x2="289"/><text x="292">carboplatin</text></g>
<g id="lf27" class="lB" transform="rotate(39.45)"><line x1="280" x2="289"/><text class="r" x="292">thioguanine</text></g>
<g id="lf28" class="lB" transform="rotate(40.89)"><line x1="280" x2="289"/><text x="292">dacarbazine</text></g>
<g id="lf29" class="lB" transform="rotate(42.33)"><line x1="280" x2="289"/><text x="292">sotorasib</text></g>
<g id="lf30" class="lB" transform="rotate(43.77)"><line x1="272" x2="289"/><text x="292">adagrasib</text></g>
<g id="lf31" class="lC" transform="rotate(45.21)"><line x1="280" x2="289"/><text x="292">MG-132</text></g>
<g id="lf32" class="lC" transform="rotate(46.65)"><line x1="280" x2="289"/><text class="r" x="292">carfilzomib</text></g>
<g id="lf33" class="lC" transform="rotate(48.09)"><line x1="280" x2="289"/><text x="292">bortezomib</text></g>
<g id="lf34" class="lC" transform="rotate(49.53)"><line x1="280" x2="289"/><text x="292">MYCMI-6</text></g>
<g id="lf35" class="lC" transform="rotate(50.97)"><line x1="280" x2="289"/><text class="r" x="292">MLN7243</text></g>
<g id="lf36" class="lC" transform="rotate(52.4)"><line x1="280" x2="289"/><text x="292">GSK126</text></g>
<g id="lf37" class="lC" transform="rotate(53.84)"><line x1="280" x2="289"/><text x="292">UNC1999</text></g>
<g id="lf38" class="lC" transform="rotate(55.28)"><line x1="280" x2="289"/><text class="r" x="292">GSK343</text></g>
<g id="lf39" class="lC" transform="rotate(56.72)"><line x1="272" x2="289"/><text x="292">tamoxifen</text></g>
<g id="lf40" class="lD" transform="rotate(58.16)"><line x1="280" x2="289"/><text x="292">tazemetostat</text></g>
<g id="lf41" class="lD" transform="rotate(59.6)"><line x1="280" x2="289"/><text class="r" x="292">alpelisib</text></g>
<g id="lf42" class="lD" transform="rotate(61.04)"><line x1="280" x2="289"/><text class="r" x="292">RMC-7977</text></g>
<g id="lf43" class="lD" transform="rotate(62.48)"><line x1="280" x2="289"/><text x="292">MRTX1133</text></g>
<g id="lf44" class="lD" transform="rotate(63.92)"><line x1="280" x2="289"/><text x="292">MRK-560</text></g>
<g id="lf45" class="lD" transform="rotate(65.36)"><line x1="280" x2="289"/><text x="292">linsitinib</text></g>
<g id="lf46" class="lD" transform="rotate(66.79)"><line x1="280" x2="289"/><text x="292">UNI-77</text></g>
<g id="lf47" class="lD" transform="rotate(68.23)"><line x1="280" x2="289"/><text x="292">JA2131</text></g>
<g id="lf48" class="lD" transform="rotate(69.67)"><line x1="280" x2="289"/><text x="292">ribociclib</text></g>
<g id="lf49" class="lD" transform="rotate(71.11)"><line x1="280" x2="289"/><text x="292">abemaciclib</text></g>
<g id="lf50" class="lD" transform="rotate(72.55)"><line x1="272" x2="289"/><text class="r" x="292">palbociclib</text></g>
<g id="lf51" class="lE" transform="rotate(73.99)"><line x1="280" x2="289"/><text x="292">MLN8054</text></g>
<g id="lf52" class="lE" transform="rotate(75.43)"><line x1="280" x2="289"/><text x="292">LY3295668</text></g>
<g id="lf53" class="lE" transform="rotate(76.87)"><line x1="280" x2="289"/><text x="292">fulvestrant</text></g>
<g id="lf54" class="lE" transform="rotate(78.31)"><line x1="280" x2="289"/><text x="292">S-trityl-L-cysteine</text></g>
<g id="lf55" class="lE" transform="rotate(79.75)"><line x1="280" x2="289"/><text x="292">nutlin-3a</text></g>
<g id="lf56" class="lE" transform="rotate(81.18)"><line x1="280" x2="289"/><text x="292">ivosidenib</text></g>
<g id="lf57" class="lE" transform="rotate(82.62)"><line x1="272" x2="289"/><text x="292">busulfan</text></g>
<g id="lf58" class="lF" transform="rotate(84.06)"><line x1="280" x2="289"/><text x="292">navitoclax</text></g>
<g id="lf59" class="lF" transform="rotate(85.5)"><line x1="280" x2="289"/><text x="292">ABT-737</text></g>
<g id="lf60" class="lF" transform="rotate(86.94)"><line x1="272" x2="289"/><text x="292">DT2216</text></g>
<g id="lf61" class="lF" transform="rotate(88.38)"><line x1="280" x2="289"/><text x="292">I08</text></g>
<g id="lf62" class="lF" transform="rotate(89.82)"><line x1="280" x2="289"/><text x="292">BAY-320</text></g>
<g id="lf63" class="lF" transform="rotate(91.26)"><line x1="280" x2="289"/><text class="f" x="292" transform="rotate(180 292 0)">PDD00017273</text></g>
<g id="lf64" class="lF" transform="rotate(92.7)"><line x1="280" x2="289"/><text class="f" x="292" transform="rotate(180 292 0)">ACBI2</text></g>
<g id="lf65" class="lF" transform="rotate(94.14)"><line x1="280" x2="289"/><text class="f" x="292" transform="rotate(180 292 0)">molibresib</text></g>
<g id="lf66" class="lF" transform="rotate(95.57)"><line x1="280" x2="289"/><text class="f r" x="292" transform="rotate(180 292 0)">JQ1</text></g>
<g id="lf67" class="lF" transform="rotate(97.01)"><line x1="280" x2="289"/><text class="f r" x="292" transform="rotate(180 292 0)">venetoclax</text></g>
<g id="lf68" class="lF" transform="rotate(98.45)"><line x1="280" x2="289"/><text class="f r" x="292" transform="rotate(180 292 0)">revumenib</text></g>
<g id="lf69" class="lG" transform="rotate(99.89)"><line x1="280" x2="289"/><text class="f" x="292" transform="rotate(180 292 0)">gilteritinib</text></g>
<g id="lf70" class="lG" transform="rotate(101.33)"><line x1="280" x2="289"/><text class="f" x="292" transform="rotate(180 292 0)">ceritinib</text></g>
<g id="lf71" class="lG" transform="rotate(102.77)"><line x1="280" x2="289"/><text class="f" x="292" transform="rotate(180 292 0)">entrectinib</text></g>
<g id="lf72" class="lG" transform="rotate(104.21)"><line x1="280" x2="289"/><text class="f" x="292" transform="rotate(180 292 0)">brigatinib</text></g>
<g id="lf73" class="lG" transform="rotate(105.65)"><line x1="280" x2="289"/><text class="f" x="292" transform="rotate(180 292 0)">lorlatinib</text></g>
<g id="lf74" class="lG" transform="rotate(107.09)"><line x1="280" x2="289"/><text class="f r" x="292" transform="rotate(180 292 0)">alectinib</text></g>
<g id="lf75" class="lV" transform="rotate(108.53)"><line x1="272" x2="289"/><text class="f" x="292" transform="rotate(180 292 0)">epacadostat</text></g>
<g id="lf76" class="lV" transform="rotate(109.96)"><line x1="280" x2="289"/><text class="f" x="292" transform="rotate(180 292 0)">elimusertib</text></g>
<g id="lf77" class="lV" transform="rotate(111.4)"><line x1="280" x2="289"/><text class="f" x="292" transform="rotate(180 292 0)">ceralasertib</text></g>
<g id="lf78" class="lV" transform="rotate(112.84)"><line x1="280" x2="289"/><text class="f r" x="292" transform="rotate(180 292 0)">berzosertib</text></g>
<g id="lf79" class="lV" transform="rotate(114.28)"><line x1="280" x2="289"/><text class="f r" x="292" transform="rotate(180 292 0)">SCH900776</text></g>
<g id="lf80" class="lV" transform="rotate(115.72)"><line x1="280" x2="289"/><text class="f" x="292" transform="rotate(180 292 0)">CHIR-124</text></g>
<g id="lf81" class="lV" transform="rotate(117.16)"><line x1="280" x2="289"/><text class="f" x="292" transform="rotate(180 292 0)">azenosertib</text></g>
<g id="lf82" class="lV" transform="rotate(118.6)"><line x1="280" x2="289"/><text class="f r" x="292" transform="rotate(180 292 0)">adavosertib</text></g>
<g id="lf83" class="lV" transform="rotate(120.04)"><line x1="280" x2="289"/><text class="f" x="292" transform="rotate(180 292 0)">Debio 0123</text></g>
<g id="lf84" class="lH" transform="rotate(121.48)"><line x1="280" x2="289"/><text class="f" x="292" transform="rotate(180 292 0)">melphalan</text></g>
<g id="lf85" class="lH" transform="rotate(122.92)"><line x1="280" x2="289"/><text class="f" x="292" transform="rotate(180 292 0)">cisplatin</text></g>
<g id="lf86" class="lH" transform="rotate(124.35)"><line x1="280" x2="289"/><text class="f" x="292" transform="rotate(180 292 0)">cyclophosphamide</text></g>
<g id="lf87" class="lH" transform="rotate(125.79)"><line x1="280" x2="289"/><text class="f" x="292" transform="rotate(180 292 0)">mitomycin C</text></g>
<g id="lf88" class="lH" transform="rotate(127.23)"><line x1="280" x2="289"/><text class="f r" x="292" transform="rotate(180 292 0)">gemcitabine</text></g>
<g id="lf89" class="lH" transform="rotate(128.67)"><line x1="280" x2="289"/><text class="f" x="292" transform="rotate(180 292 0)">cytarabine</text></g>
<g id="lf90" class="lH" transform="rotate(130.11)"><line x1="272" x2="289"/><text class="f r" x="292" transform="rotate(180 292 0)">SN-38</text></g>
<g id="lf91" class="lH" transform="rotate(131.55)"><line x1="280" x2="289"/><text class="f" x="292" transform="rotate(180 292 0)">exatecan</text></g>
<g id="lf92" class="lH" transform="rotate(132.99)"><line x1="280" x2="289"/><text class="f" x="292" transform="rotate(180 292 0)">topotecan</text></g>
<g id="lf93" class="lH" transform="rotate(134.43)"><line x1="280" x2="289"/><text class="f" x="292" transform="rotate(180 292 0)">sacituzumab govitecan</text></g>
<g id="lf94" class="lH" transform="rotate(135.87)"><line x1="280" x2="289"/><text class="f" x="292" transform="rotate(180 292 0)">irinotecan</text></g>
<g id="lf95" class="lH" transform="rotate(137.31)"><line x1="272" x2="289"/><text class="f" x="292" transform="rotate(180 292 0)">camptothecin</text></g>
<g id="lf96" class="lI" transform="rotate(138.74)"><line x1="280" x2="289"/><text class="f" x="292" transform="rotate(180 292 0)">olaparib</text></g>
<g id="lf97" class="lI" transform="rotate(140.18)"><line x1="280" x2="289"/><text class="f r" x="292" transform="rotate(180 292 0)">niraparib</text></g>
<g id="lf98" class="lI" transform="rotate(141.62)"><line x1="280" x2="289"/><text class="f" x="292" transform="rotate(180 292 0)">rucaparib</text></g>
<g id="lf99" class="lI" transform="rotate(143.06)"><line x1="280" x2="289"/><text class="f" x="292" transform="rotate(180 292 0)">deruxtecan</text></g>
<g id="lf100" class="lI" transform="rotate(144.5)"><line x1="280" x2="289"/><text class="f" x="292" transform="rotate(180 292 0)">talazoparib</text></g>
<g id="lf101" class="lI" transform="rotate(145.94)"><line x1="280" x2="289"/><text class="f" x="292" transform="rotate(180 292 0)">saruparib</text></g>
<g id="lf102" class="lI" transform="rotate(147.38)"><line x1="272" x2="289"/><text class="f" x="292" transform="rotate(180 292 0)">AZD9574</text></g>
<g id="lf103" class="lA" transform="rotate(148.82)"><line x1="280" x2="289"/><text class="f" x="292" transform="rotate(180 292 0)">decitabine</text></g>
<g id="lf104" class="lA" transform="rotate(150.26)"><line x1="280" x2="289"/><text class="f" x="292" transform="rotate(180 292 0)">crenolanib</text></g>
<g id="lf105" class="lA" transform="rotate(151.7)"><line x1="280" x2="289"/><text class="f" x="292" transform="rotate(180 292 0)">momelotinib</text></g>
<g id="lf106" class="lA" transform="rotate(153.13)"><line x1="280" x2="289"/><text class="f r" x="292" transform="rotate(180 292 0)">defactinib</text></g>
<g id="lf107" class="lA" transform="rotate(154.57)"><line x1="280" x2="289"/><text class="f" x="292" transform="rotate(180 292 0)">CYC116</text></g>
<g id="lf108" class="lA" transform="rotate(156.01)"><line x1="280" x2="289"/><text class="f" x="292" transform="rotate(180 292 0)">AT9283</text></g>
<g id="lf109" class="lA" transform="rotate(157.45)"><line x1="272" x2="289"/><text class="f" x="292" transform="rotate(180 292 0)">midostaurin</text></g>
<g id="lf110" class="lA" transform="rotate(158.89)"><line x1="280" x2="289"/><text class="f" x="292" transform="rotate(180 292 0)">pirtobrutinib</text></g>
<g id="lf111" class="lA" transform="rotate(160.33)"><line x1="280" x2="289"/><text class="f" x="292" transform="rotate(180 292 0)">epirubicin</text></g>
<g id="lf112" class="lA" transform="rotate(161.77)"><line x1="280" x2="289"/><text class="f r" x="292" transform="rotate(180 292 0)">doxorubicin</text></g>
<g id="lf113" class="lA" transform="rotate(163.21)"><line x1="280" x2="289"/><text class="f" x="292" transform="rotate(180 292 0)">daunorubicin</text></g>
<g id="lf114" class="lA" transform="rotate(164.65)"><line x1="280" x2="289"/><text class="f" x="292" transform="rotate(180 292 0)">etoposide</text></g>
<g id="lf115" class="lA" transform="rotate(166.09)"><line x1="280" x2="289"/><text class="f" x="292" transform="rotate(180 292 0)">mitoxantrone</text></g>
<g id="lf116" class="lA" transform="rotate(167.52)"><line x1="280" x2="289"/><text class="f" x="292" transform="rotate(180 292 0)">pevonedistat</text></g>
<g id="lf117" class="lA" transform="rotate(168.96)"><line x1="280" x2="289"/><text class="f r" x="292" transform="rotate(180 292 0)">reversine</text></g>
<g id="lf118" class="lA" transform="rotate(170.4)"><line x1="280" x2="289"/><text class="f" x="292" transform="rotate(180 292 0)">NMS-P715</text></g>
<g id="lf119" class="lA" transform="rotate(171.84)"><line x1="280" x2="289"/><text class="f" x="292" transform="rotate(180 292 0)">MPI-0479605</text></g>
<g id="lf120" class="lA" transform="rotate(173.28)"><line x1="280" x2="289"/><text class="f" x="292" transform="rotate(180 292 0)">Mps1-IN-1</text></g>
<g id="lf121" class="lA" transform="rotate(174.72)"><line x1="280" x2="289"/><text class="f" x="292" transform="rotate(180 292 0)">fluorouracil</text></g>
<g id="lf122" class="lA" transform="rotate(176.16)"><line x1="280" x2="289"/><text class="f r" x="292" transform="rotate(180 292 0)">tozasertib</text></g>
<g id="lf123" class="lA" transform="rotate(177.6)"><line x1="280" x2="289"/><text class="f" x="292" transform="rotate(180 292 0)">GSK1070916</text></g>
<g id="lf124" class="lA" transform="rotate(179.04)"><line x1="272" x2="289"/><text class="f" x="292" transform="rotate(180 292 0)">AMG-900</text></g>
<g id="lf125" class="lA" transform="rotate(180.48)"><line x1="280" x2="289"/><text class="f r" x="292" transform="rotate(180 292 0)">volasertib</text></g>
<g id="lf126" class="lA" transform="rotate(181.91)"><line x1="280" x2="289"/><text class="f" x="292" transform="rotate(180 292 0)">BI 2536</text></g>
<g id="lf127" class="lA" transform="rotate(183.35)"><line x1="280" x2="289"/><text class="f" x="292" transform="rotate(180 292 0)">GSK461364</text></g>
<g id="lf128" class="lA" transform="rotate(184.79)"><line x1="280" x2="289"/><text class="f" x="292" transform="rotate(180 292 0)">NMS-P153</text></g>
<g id="lf129" class="lA" transform="rotate(186.23)"><line x1="280" x2="289"/><text class="f" x="292" transform="rotate(180 292 0)">BOS172722</text></g>
<g id="lf130" class="lA" transform="rotate(187.67)"><line x1="280" x2="289"/><text class="f" x="292" transform="rotate(180 292 0)">CFI-402257</text></g>
<g id="lf131" class="lA" transform="rotate(189.11)"><line x1="272" x2="289"/><text class="f" x="292" transform="rotate(180 292 0)">BAY 1217389</text></g>
<g id="lf132" class="lK" transform="rotate(190.55)"><line x1="280" x2="289"/><text class="f r" x="292" transform="rotate(180 292 0)">tepotinib</text></g>
<g id="lf133" class="lK" transform="rotate(191.99)"><line x1="280" x2="289"/><text class="f" x="292" transform="rotate(180 292 0)">savolitinib</text></g>
<g id="lf134" class="lK" transform="rotate(193.43)"><line x1="280" x2="289"/><text class="f" x="292" transform="rotate(180 292 0)">capmatinib</text></g>
<g id="lf135" class="lK" transform="rotate(194.87)"><line x1="280" x2="289"/><text class="f" x="292" transform="rotate(180 292 0)">crizotinib</text></g>
<g id="lf136" class="lK" transform="rotate(196.3)"><line x1="272" x2="289"/><text class="f" x="292" transform="rotate(180 292 0)">cabozantinib</text></g>
<g id="lf137" class="lL" transform="rotate(197.74)"><line x1="280" x2="289"/><text class="f" x="292" transform="rotate(180 292 0)">ML-792</text></g>
<g id="lf138" class="lL" transform="rotate(199.18)"><line x1="280" x2="289"/><text class="f" x="292" transform="rotate(180 292 0)">AT7519</text></g>
<g id="lf139" class="lL" transform="rotate(200.62)"><line x1="280" x2="289"/><text class="f" x="292" transform="rotate(180 292 0)">vincristine</text></g>
<g id="lf140" class="lL" transform="rotate(202.06)"><line x1="280" x2="289"/><text class="f r" x="292" transform="rotate(180 292 0)">paclitaxel</text></g>
<g id="lf141" class="lL" transform="rotate(203.5)"><line x1="280" x2="289"/><text class="f" x="292" transform="rotate(180 292 0)">danusertib</text></g>
<g id="lf142" class="lL" transform="rotate(204.94)"><line x1="280" x2="289"/><text class="f" x="292" transform="rotate(180 292 0)">actinomycin D</text></g>
<g id="lf143" class="lL" transform="rotate(206.38)"><line x1="272" x2="289"/><text class="f" x="292" transform="rotate(180 292 0)">PHA-793887</text></g>
<g id="lf144" class="lL" transform="rotate(207.82)"><line x1="280" x2="289"/><text class="f" x="292" transform="rotate(180 292 0)">dinaciclib</text></g>
<g id="lf145" class="lL" transform="rotate(209.26)"><line x1="280" x2="289"/><text class="f" x="292" transform="rotate(180 292 0)">vinblastine</text></g>
<g id="lf146" class="lL" transform="rotate(210.69)"><line x1="280" x2="289"/><text class="f" x="292" transform="rotate(180 292 0)">ICG-001</text></g>
<g id="lf147" class="lL" transform="rotate(212.13)"><line x1="280" x2="289"/><text class="f r" x="292" transform="rotate(180 292 0)">MMAE</text></g>
<g id="lf148" class="lL" transform="rotate(213.57)"><line x1="280" x2="289"/><text class="f" x="292" transform="rotate(180 292 0)">eribulin</text></g>
<g id="lf149" class="lL" transform="rotate(215.01)"><line x1="280" x2="289"/><text class="f" x="292" transform="rotate(180 292 0)">vinflunine</text></g>
<g id="lf150" class="lL" transform="rotate(216.45)"><line x1="272" x2="289"/><text class="f" x="292" transform="rotate(180 292 0)">docetaxel</text></g>
<g id="lf151" class="lI" transform="rotate(217.89)"><line x1="280" x2="289"/><text class="f" x="292" transform="rotate(180 292 0)">temsirolimus</text></g>
<g id="lf152" class="lI" transform="rotate(219.33)"><line x1="280" x2="289"/><text class="f" x="292" transform="rotate(180 292 0)">everolimus</text></g>
<g id="lf153" class="lI" transform="rotate(220.77)"><line x1="272" x2="289"/><text class="f r" x="292" transform="rotate(180 292 0)">sirolimus</text></g>
<g id="lf154" class="lI" transform="rotate(222.21)"><line x1="280" x2="289"/><text class="f" x="292" transform="rotate(180 292 0)">sapanisertib</text></g>
<g id="lf155" class="lI" transform="rotate(223.65)"><line x1="280" x2="289"/><text class="f" x="292" transform="rotate(180 292 0)">AZD8055</text></g>
<g id="lf156" class="lI" transform="rotate(225.08)"><line x1="272" x2="289"/><text class="f" x="292" transform="rotate(180 292 0)">dactolisib</text></g>
<g id="lf157" class="lN" transform="rotate(226.52)"><line x1="280" x2="289"/><text class="f" x="292" transform="rotate(180 292 0)">trastuzumab emtansine</text></g>
<g id="lf158" class="lN" transform="rotate(227.96)"><line x1="280" x2="289"/><text class="f" x="292" transform="rotate(180 292 0)">trastuzumab deruxtecan</text></g>
<g id="lf159" class="lN" transform="rotate(229.4)"><line x1="280" x2="289"/><text class="f r" x="292" transform="rotate(180 292 0)">tucatinib</text></g>
<g id="lf160" class="lN" transform="rotate(230.84)"><line x1="280" x2="289"/><text class="f" x="292" transform="rotate(180 292 0)">trastuzumab</text></g>
<g id="lf161" class="lO" transform="rotate(232.28)"><line x1="280" x2="289"/><text class="f r" x="292" transform="rotate(180 292 0)">prednisolone</text></g>
<g id="lf162" class="lO" transform="rotate(233.72)"><line x1="280" x2="289"/><text class="f" x="292" transform="rotate(180 292 0)">doxifluridine</text></g>
<g id="lf163" class="lO" transform="rotate(235.16)"><line x1="280" x2="289"/><text class="f" x="292" transform="rotate(180 292 0)">fostamatinib</text></g>
<g id="lf164" class="lO" transform="rotate(236.6)"><line x1="280" x2="289"/><text class="f" x="292" transform="rotate(180 292 0)">tamatinib</text></g>
<g id="lf165" class="lO" transform="rotate(238.04)"><line x1="280" x2="289"/><text class="f" x="292" transform="rotate(180 292 0)">selpercatinib</text></g>
<g id="lf166" class="lO" transform="rotate(239.47)"><line x1="280" x2="289"/><text class="f" x="292" transform="rotate(180 292 0)">pralsetinib</text></g>
<g id="lf167" class="lO" transform="rotate(240.91)"><line x1="272" x2="289"/><text class="f" x="292" transform="rotate(180 292 0)">batoprotafib</text></g>
<g id="lf168" class="lO" transform="rotate(242.35)"><line x1="280" x2="289"/><text class="f r" x="292" transform="rotate(180 292 0)">vociprotafib</text></g>
<g id="lf169" class="lO" transform="rotate(243.79)"><line x1="280" x2="289"/><text class="f" x="292" transform="rotate(180 292 0)">XAV939</text></g>
<g id="lf170" class="lO" transform="rotate(245.23)"><line x1="280" x2="289"/><text class="f" x="292" transform="rotate(180 292 0)">K-975</text></g>
<g id="lf171" class="lO" transform="rotate(246.67)"><line x1="280" x2="289"/><text class="f" x="292" transform="rotate(180 292 0)">A-420983</text></g>
<g id="lf172" class="lO" transform="rotate(248.11)"><line x1="272" x2="289"/><text class="f r" x="292" transform="rotate(180 292 0)">dasatinib</text></g>
<g id="lf173" class="lP" transform="rotate(249.55)"><line x1="280" x2="289"/><text class="f" x="292" transform="rotate(180 292 0)">uprosertib</text></g>
<g id="lf174" class="lP" transform="rotate(250.99)"><line x1="280" x2="289"/><text class="f" x="292" transform="rotate(180 292 0)">miransertib</text></g>
<g id="lf175" class="lP" transform="rotate(252.43)"><line x1="272" x2="289"/><text class="f" x="292" transform="rotate(180 292 0)">idelalisib</text></g>
<g id="lf176" class="lP" transform="rotate(253.86)"><line x1="280" x2="289"/><text class="f r" x="292" transform="rotate(180 292 0)">ipatasertib</text></g>
<g id="lf177" class="lP" transform="rotate(255.3)"><line x1="280" x2="289"/><text class="f r" x="292" transform="rotate(180 292 0)">duvelisib</text></g>
<g id="lf178" class="lP" transform="rotate(256.74)"><line x1="280" x2="289"/><text class="f" x="292" transform="rotate(180 292 0)">capivasertib</text></g>
<g id="lf179" class="lP" transform="rotate(258.18)"><line x1="280" x2="289"/><text class="f" x="292" transform="rotate(180 292 0)">taselisib</text></g>
<g id="lf180" class="lP" transform="rotate(259.62)"><line x1="280" x2="289"/><text class="f" x="292" transform="rotate(180 292 0)">copanlisib</text></g>
<g id="lf181" class="lP" transform="rotate(261.06)"><line x1="280" x2="289"/><text class="f" x="292" transform="rotate(180 292 0)">vecabrutinib</text></g>
<g id="lf182" class="lP" transform="rotate(262.5)"><line x1="280" x2="289"/><text class="f" x="292" transform="rotate(180 292 0)">acalabrutinib</text></g>
<g id="lf183" class="lP" transform="rotate(263.94)"><line x1="280" x2="289"/><text class="f" x="292" transform="rotate(180 292 0)">fenebrutinib</text></g>
<g id="lf184" class="lP" transform="rotate(265.38)"><line x1="272" x2="289"/><text class="f" x="292" transform="rotate(180 292 0)">tirabrutinib</text></g>
<g id="lf185" class="lG" transform="rotate(266.82)"><line x1="280" x2="289"/><text class="f r" x="292" transform="rotate(180 292 0)">osimertinib</text></g>
<g id="lf186" class="lG" transform="rotate(268.25)"><line x1="280" x2="289"/><text class="f r" x="292" transform="rotate(180 292 0)">neratinib</text></g>
<g id="lf187" class="lG" transform="rotate(269.69)"><line x1="280" x2="289"/><text class="f" x="292" transform="rotate(180 292 0)">BDTX-1535</text></g>
<g id="lf188" class="lG" transform="rotate(271.13)"><line x1="280" x2="289"/><text x="292">afatinib</text></g>
<g id="lf189" class="lG" transform="rotate(272.57)"><line x1="280" x2="289"/><text x="292">gefitinib</text></g>
<g id="lf190" class="lG" transform="rotate(274.01)"><line x1="280" x2="289"/><text x="292">dacomitinib</text></g>
<g id="lf191" class="lG" transform="rotate(275.45)"><line x1="280" x2="289"/><text x="292">mobocertinib</text></g>
<g id="lf192" class="lG" transform="rotate(276.89)"><line x1="280" x2="289"/><text x="292">lapatinib</text></g>
<g id="lf193" class="lG" transform="rotate(278.33)"><line x1="280" x2="289"/><text x="292">vandetanib</text></g>
<g id="lf194" class="lG" transform="rotate(279.77)"><line x1="280" x2="289"/><text x="292">erlotinib</text></g>
<g id="lf195" class="lG" transform="rotate(281.21)"><line x1="272" x2="289"/><text class="r" x="292">ibrutinib</text></g>
<g id="lf196" class="lG" transform="rotate(282.64)"><line x1="280" x2="289"/><text x="292">zanubrutinib</text></g>
<g id="lf197" class="lG" transform="rotate(284.08)"><line x1="280" x2="289"/><text x="292">JBJ-09-063</text></g>
<g id="lf198" class="lG" transform="rotate(285.52)"><line x1="280" x2="289"/><text x="292">cetuximab</text></g>
<g id="lf199" class="lG" transform="rotate(286.96)"><line x1="280" x2="289"/><text x="292">BLU-945</text></g>
<g id="lf200" class="lI" transform="rotate(288.4)"><line x1="280" x2="289"/><text x="292">pazopanib</text></g>
<g id="lf201" class="lI" transform="rotate(289.84)"><line x1="280" x2="289"/><text x="292">lenvatinib</text></g>
<g id="lf202" class="lI" transform="rotate(291.28)"><line x1="272" x2="289"/><text x="292">tivozanib</text></g>
<g id="lf203" class="lI" transform="rotate(292.72)"><line x1="280" x2="289"/><text class="r" x="292">nintedanib</text></g>
<g id="lf204" class="lI" transform="rotate(294.16)"><line x1="280" x2="289"/><text class="r" x="292">sorafenib</text></g>
<g id="lf205" class="lI" transform="rotate(295.6)"><line x1="280" x2="289"/><text x="292">regorafenib</text></g>
<g id="lf206" class="lI" transform="rotate(297.03)"><line x1="280" x2="289"/><text x="292">pexidartinib</text></g>
<g id="lf207" class="lI" transform="rotate(298.47)"><line x1="280" x2="289"/><text x="292">derazantinib</text></g>
<g id="lf208" class="lI" transform="rotate(299.91)"><line x1="280" x2="289"/><text x="292">axitinib</text></g>
<g id="lf209" class="lI" transform="rotate(301.35)"><line x1="280" x2="289"/><text x="292">rebastinib</text></g>
<g id="lf210" class="lI" transform="rotate(302.79)"><line x1="280" x2="289"/><text x="292">ponatinib</text></g>
<g id="lf211" class="lI" transform="rotate(304.23)"><line x1="280" x2="289"/><text x="292">BAY-293</text></g>
<g id="lf212" class="lI" transform="rotate(305.67)"><line x1="280" x2="289"/><text x="292">infigratinib</text></g>
<g id="lf213" class="lI" transform="rotate(307.11)"><line x1="280" x2="289"/><text class="r" x="292">erdafitinib</text></g>
<g id="lf214" class="lI" transform="rotate(308.55)"><line x1="280" x2="289"/><text x="292">pemigatinib</text></g>
<g id="lf215" class="lI" transform="rotate(309.99)"><line x1="280" x2="289"/><text x="292">futibatinib</text></g>
<g id="lf216" class="lI" transform="rotate(311.42)"><line x1="280" x2="289"/><text x="292">lirafugratinib</text></g>
<g id="lf217" class="lG" transform="rotate(312.86)"><line x1="280" x2="289"/><text x="292">sunitinib</text></g>
<g id="lf218" class="lG" transform="rotate(314.3)"><line x1="280" x2="289"/><text x="292">avapritinib</text></g>
<g id="lf219" class="lG" transform="rotate(315.74)"><line x1="280" x2="289"/><text x="292">all-trans retinoic acid</text></g>
<g id="lf220" class="lG" transform="rotate(317.18)"><line x1="280" x2="289"/><text x="292">quizartinib</text></g>
<g id="lf221" class="lG" transform="rotate(318.62)"><line x1="280" x2="289"/><text x="292">enasidenib</text></g>
<g id="lf222" class="lG" transform="rotate(320.06)"><line x1="280" x2="289"/><text x="292">KSQ-4279</text></g>
<g id="lf223" class="lG" transform="rotate(321.5)"><line x1="272" x2="289"/><text class="r" x="292">I-138</text></g>
<g id="lf224" class="lG" transform="rotate(322.94)"><line x1="280" x2="289"/><text x="292">nilotinib</text></g>
<g id="lf225" class="lG" transform="rotate(324.38)"><line x1="280" x2="289"/><text x="292">asciminib</text></g>
<g id="lf226" class="lG" transform="rotate(325.81)"><line x1="280" x2="289"/><text x="292">masitinib</text></g>
<g id="lf227" class="lG" transform="rotate(327.25)"><line x1="280" x2="289"/><text class="r" x="292">imatinib</text></g>
<g id="lf228" class="lG" transform="rotate(328.69)"><line x1="272" x2="289"/><text x="292">bosutinib</text></g>
<g id="lf229" class="lT" transform="rotate(330.13)"><line x1="280" x2="289"/><text x="292">trametinib</text></g>
<g id="lf230" class="lT" transform="rotate(331.57)"><line x1="280" x2="289"/><text class="r" x="292">cobimetinib</text></g>
<g id="lf231" class="lT" transform="rotate(333.01)"><line x1="280" x2="289"/><text x="292">belvarafenib</text></g>
<g id="lf232" class="lT" transform="rotate(334.45)"><line x1="280" x2="289"/><text x="292">ulixertinib</text></g>
<g id="lf233" class="lT" transform="rotate(335.89)"><line x1="280" x2="289"/><text class="r" x="292">SCH772984</text></g>
<g id="lf234" class="lT" transform="rotate(337.33)"><line x1="280" x2="289"/><text x="292">MK-8353</text></g>
<g id="lf235" class="lT" transform="rotate(338.77)"><line x1="272" x2="289"/><text x="292">nemtabrutinib</text></g>
<g id="lf236" class="lT" transform="rotate(340.2)"><line x1="280" x2="289"/><text x="292">MS934</text></g>
<g id="lf237" class="lT" transform="rotate(341.64)"><line x1="280" x2="289"/><text x="292">mirdametinib</text></g>
<g id="lf238" class="lT" transform="rotate(343.08)"><line x1="280" x2="289"/><text x="292">avutometinib</text></g>
<g id="lf239" class="lT" transform="rotate(344.52)"><line x1="280" x2="289"/><text x="292">selumetinib</text></g>
<g id="lf240" class="lT" transform="rotate(345.96)"><line x1="272" x2="289"/><text x="292">binimetinib</text></g>
<g id="lf241" class="lU" transform="rotate(347.4)"><line x1="280" x2="289"/><text x="292">ripretinib</text></g>
<g id="lf242" class="lU" transform="rotate(348.84)"><line x1="280" x2="289"/><text x="292">LY3009120</text></g>
<g id="lf243" class="lU" transform="rotate(350.28)"><line x1="280" x2="289"/><text class="r" x="292">tovorafenib</text></g>
<g id="lf244" class="lU" transform="rotate(351.72)"><line x1="280" x2="289"/><text x="292">lifirafenib</text></g>
<g id="lf245" class="lU" transform="rotate(353.16)"><line x1="280" x2="289"/><text x="292">encorafenib</text></g>
<g id="lf246" class="lU" transform="rotate(354.59)"><line x1="280" x2="289"/><text x="292">dabrafenib</text></g>
<g id="lf247" class="lU" transform="rotate(356.03)"><line x1="280" x2="289"/><text x="292">vemurafenib</text></g>
<g id="lf248" class="lU" transform="rotate(357.47)"><line x1="280" x2="289"/><text x="292">plixorafenib</text></g>
</g>
<g id="dots" transform="translate(536 454)" fill="#e8141c">
<circle cx="360" r="5.3" transform="rotate(4.92)"/><circle cx="360" r="5.3" transform="rotate(12.11)"/><circle cx="360" r="5.3" transform="rotate(17.87)"/><circle cx="360" r="5.3" transform="rotate(20.75)"/><circle cx="360" r="5.3" transform="rotate(29.38)"/><circle cx="360" r="5.3" transform="rotate(39.45)"/><circle cx="360" r="5.3" transform="rotate(46.65)"/><circle cx="360" r="5.3" transform="rotate(50.97)"/><circle cx="360" r="5.3" transform="rotate(55.28)"/><circle cx="360" r="5.3" transform="rotate(59.6)"/><circle cx="360" r="5.3" transform="rotate(61.04)"/><circle cx="360" r="5.3" transform="rotate(72.55)"/><circle cx="360" r="5.3" transform="rotate(95.57)"/><circle cx="360" r="5.3" transform="rotate(97.01)"/><circle cx="360" r="5.3" transform="rotate(98.45)"/><circle cx="360" r="5.3" transform="rotate(107.09)"/><circle cx="360" r="5.3" transform="rotate(112.84)"/><circle cx="360" r="5.3" transform="rotate(114.28)"/><circle cx="360" r="5.3" transform="rotate(118.6)"/><circle cx="360" r="5.3" transform="rotate(127.23)"/><circle cx="360" r="5.3" transform="rotate(130.11)"/><circle cx="360" r="5.3" transform="rotate(140.18)"/><circle cx="360" r="5.3" transform="rotate(153.13)"/><circle cx="360" r="5.3" transform="rotate(161.77)"/><circle cx="360" r="5.3" transform="rotate(168.96)"/><circle cx="360" r="5.3" transform="rotate(176.16)"/><circle cx="360" r="5.3" transform="rotate(180.48)"/><circle cx="360" r="5.3" transform="rotate(190.55)"/><circle cx="360" r="5.3" transform="rotate(202.06)"/><circle cx="360" r="5.3" transform="rotate(212.13)"/><circle cx="360" r="5.3" transform="rotate(220.77)"/><circle cx="360" r="5.3" transform="rotate(229.4)"/><circle cx="360" r="5.3" transform="rotate(232.28)"/><circle cx="360" r="5.3" transform="rotate(242.35)"/><circle cx="360" r="5.3" transform="rotate(248.11)"/><circle cx="360" r="5.3" transform="rotate(253.86)"/><circle cx="360" r="5.3" transform="rotate(255.3)"/><circle cx="360" r="5.3" transform="rotate(266.82)"/><circle cx="360" r="5.3" transform="rotate(268.25)"/><circle cx="360" r="5.3" transform="rotate(281.21)"/><circle cx="360" r="5.3" transform="rotate(292.72)"/><circle cx="360" r="5.3" transform="rotate(294.16)"/><circle cx="360" r="5.3" transform="rotate(307.11)"/><circle cx="360" r="5.3" transform="rotate(321.5)"/><circle cx="360" r="5.3" transform="rotate(327.25)"/><circle cx="360" r="5.3" transform="rotate(331.57)"/><circle cx="360" r="5.3" transform="rotate(335.89)"/><circle cx="360" r="5.3" transform="rotate(350.28)"/>
</g>
<g id="categories">
<g id="cat-tubulin" class="cat" style="color:#6b5a12"><circle cx="536" cy="454" r="397" pathLength="360" stroke-dasharray="16.7 720" transform="rotate(200.8 536 454)"/><text x="180" y="257" text-anchor="end">Tubulin</text></g>
<g id="cat-mtor" class="cat" style="color:#1c5c8a"><circle cx="536" cy="454" r="397" pathLength="360" stroke-dasharray="5.7 720" transform="rotate(217.8 536 454)"/><text x="225" y="194" text-anchor="end">mTOR</text></g>
<g id="cat-her2" class="cat" style="color:#7c1c6c"><circle cx="536" cy="454" r="397" pathLength="360" stroke-dasharray="6.1 720" transform="rotate(226.1 536 454)"/><text x="270" y="150" text-anchor="end">HER2</text></g>
<g id="cat-syk" class="cat" style="color:#7a2a2a"><circle cx="536" cy="454" r="397" pathLength="360" stroke-dasharray="3.8 720" transform="rotate(235.1 536 454)"/><text x="315" y="117" text-anchor="end">SYK</text></g>
<g id="cat-shp2" class="cat" style="color:#7a2a2a"><circle cx="536" cy="454" r="397" pathLength="360" stroke-dasharray="4 720" transform="rotate(239.5 536 454)"/><text x="345" y="98" text-anchor="end">SHP2</text></g>
<g id="cat-pi3k" class="cat" style="color:#6b5a12"><circle cx="536" cy="454" r="397" pathLength="360" stroke-dasharray="10.4 720" transform="rotate(249.6 536 454)"/><text x="411" y="37" text-anchor="middle">PI3Kγ/δ</text><text x="411" y="60" text-anchor="middle">pan-AKT</text></g>
<g id="cat-btk" class="cat" style="color:#6b5a12"><circle cx="536" cy="454" r="397" pathLength="360" stroke-dasharray="5.5 720" transform="rotate(261 536 454)"/><text x="490" y="50" text-anchor="middle">BTK</text></g>
<g id="cat-egfr" class="cat" style="color:#3d7d1d"><circle cx="536" cy="454" r="397" pathLength="360" stroke-dasharray="21 720" transform="rotate(267 536 454)"/><text x="590" y="50" text-anchor="middle">EGFR</text></g>
<g id="cat-multikinase" class="cat" style="color:#1c5c7c"><circle cx="536" cy="454" r="397" pathLength="360" stroke-dasharray="17.1 720" transform="rotate(288.3 536 454)"/><text x="715" y="88">Multikinase</text></g>
<g id="cat-fgfr" class="cat" style="color:#1c5c7c"><circle cx="536" cy="454" r="397" pathLength="360" stroke-dasharray="5.7 720" transform="rotate(305.7 536 454)"/><text x="790" y="138">FGFR</text></g>
<g id="cat-usp1" class="cat" style="color:#1c5c2c"><circle cx="536" cy="454" r="397" pathLength="360" stroke-dasharray="2.9 720" transform="rotate(319.4 536 454)"/><text x="848" y="198">USP1</text></g>
<g id="cat-abl" class="cat" style="color:#1c5c2c"><circle cx="536" cy="454" r="397" pathLength="360" stroke-dasharray="6.7 720" transform="rotate(322.6 536 454)"/><text x="877" y="231">ABL</text></g>
<g id="cat-mek" class="cat" style="color:#1c5c6c"><circle cx="536" cy="454" r="397" pathLength="360" stroke-dasharray="16.8 720" transform="rotate(329.9 536 454)"/><text x="912" y="300">MEK</text></g>
<g id="cat-raf" class="cat" style="color:#6c1c6c"><circle cx="536" cy="454" r="397" pathLength="360" stroke-dasharray="4.6 720" transform="rotate(347.9 536 454)"/><text x="937" y="385">RAF</text></g>
<g id="cat-braf" class="cat" style="color:#6c1c6c"><circle cx="536" cy="454" r="397" pathLength="360" stroke-dasharray="5.5 720" transform="rotate(352.7 536 454)"/><text x="942" y="426">BRAF</text></g>
<g id="cat-polq" class="cat" style="color:#0c5c4c"><circle cx="536" cy="454" r="397" pathLength="360" stroke-dasharray="2.4 720" transform="rotate(4.2 536 454)"/><text x="940" y="497">Polθ</text></g>
<g id="cat-hdac" class="cat" style="color:#0c5c4c"><circle cx="536" cy="454" r="397" pathLength="360" stroke-dasharray="3.4 720" transform="rotate(8.6 536 454)"/><text x="937" y="532">HDAC</text></g>
<g id="cat-purines" class="cat" style="color:#4c4a0c"><circle cx="536" cy="454" r="397" pathLength="360" stroke-dasharray="5.7 720" transform="rotate(33.2 536 454)"/><text x="860" y="706">Purines</text></g>
<g id="cat-kras" class="cat" style="color:#4c4a0c"><circle cx="536" cy="454" r="397" pathLength="360" stroke-dasharray="3.8 720" transform="rotate(40 536 454)"/><text x="833" y="735">KRAS G12C</text></g>
<g id="cat-proteasome" class="cat" style="color:#2a2a8c"><circle cx="536" cy="454" r="397" pathLength="360" stroke-dasharray="3.9 720" transform="rotate(44.7 536 454)"/><text x="817" y="757">Proteasome</text></g>
<g id="cat-ezh" class="cat" style="color:#2a2a8c"><circle cx="536" cy="454" r="397" pathLength="360" stroke-dasharray="5.5 720" transform="rotate(51.5 536 454)"/><text x="770" y="797">EZH1/</text><text x="770" y="817">EZH2</text></g>
<g id="cat-cdk" class="cat" style="color:#6c3c1c"><circle cx="536" cy="454" r="397" pathLength="360" stroke-dasharray="4.3 720" transform="rotate(69 536 454)"/><text x="653" y="851">CDK4/</text><text x="653" y="871">CDK6</text></g>
<g id="cat-bcl" class="cat" style="color:#6c3c1c"><circle cx="536" cy="454" r="397" pathLength="360" stroke-dasharray="3.8 720" transform="rotate(83.9 536 454)"/><text x="555" y="867">BCL</text></g>
<g id="cat-bet" class="cat" style="color:#6c3c1c"><circle cx="536" cy="454" r="397" pathLength="360" stroke-dasharray="4.4 720" transform="rotate(93.5 536 454)"/><text x="482" y="865">BET</text></g>
<g id="cat-alk" class="cat" style="color:#1c6c1c"><circle cx="536" cy="454" r="397" pathLength="360" stroke-dasharray="10 720" transform="rotate(99.3 536 454)"/><text x="415" y="855">ALK</text></g>
<g id="cat-atr" class="cat" style="color:#3c4c0c"><circle cx="536" cy="454" r="397" pathLength="360" stroke-dasharray="11.7 720" transform="rotate(109.4 536 454)"/><text x="372" y="842">ATR</text><text x="337" y="829">CHK1</text><text x="297" y="809">WEE1</text></g>
<g id="cat-dna" class="cat" style="color:#6c2c7c"><circle cx="536" cy="454" r="397" pathLength="360" stroke-dasharray="8.7 720" transform="rotate(121 536 454)"/><text x="295" y="783" text-anchor="end">DNA damaging</text></g>
<g id="cat-topo1" class="cat" style="color:#6c2c7c"><circle cx="536" cy="454" r="397" pathLength="360" stroke-dasharray="8.6 720" transform="rotate(130 536 454)"/><text x="242" y="750" text-anchor="end">Topoisomerase I</text></g>
<g id="cat-parp" class="cat" style="color:#1c4c7c"><circle cx="536" cy="454" r="397" pathLength="360" stroke-dasharray="9.2 720" transform="rotate(139 536 454)"/><text x="210" y="702" text-anchor="end">PARP</text></g>
<g id="cat-topo2" class="cat" style="color:#0c5c4c"><circle cx="536" cy="454" r="397" pathLength="360" stroke-dasharray="8 720" transform="rotate(160.2 536 454)"/><text x="147" y="568" text-anchor="end">Topoisomerase II</text></g>
<g id="cat-ttk2" class="cat" style="color:#0c5c4c"><circle cx="536" cy="454" r="397" pathLength="360" stroke-dasharray="5 720" transform="rotate(169 536 454)"/><text x="135" y="518" text-anchor="end">TTK 2</text></g>
<g id="cat-aurora" class="cat" style="color:#0c5c4c"><circle cx="536" cy="454" r="397" pathLength="360" stroke-dasharray="4.5 720" transform="rotate(175.8 536 454)"/><text x="133" y="470" text-anchor="end">Aurora kinases</text></g>
<g id="cat-plk1" class="cat" style="color:#0c5c4c"><circle cx="536" cy="454" r="397" pathLength="360" stroke-dasharray="2.8 720" transform="rotate(181.1 536 454)"/><text x="130" y="439" text-anchor="end">PLK1</text></g>
<g id="cat-ttk1" class="cat" style="color:#0c5c4c"><circle cx="536" cy="454" r="397" pathLength="360" stroke-dasharray="5.9 720" transform="rotate(184.3 536 454)"/><text x="133" y="405" text-anchor="end">TTK 1</text></g>
<g id="cat-cmet" class="cat" style="color:#6c2c8c"><circle cx="536" cy="454" r="397" pathLength="360" stroke-dasharray="6.7 720" transform="rotate(190.7 536 454)"/><text x="153" y="355" text-anchor="end">c-MET</text></g>
</g>
</svg>
